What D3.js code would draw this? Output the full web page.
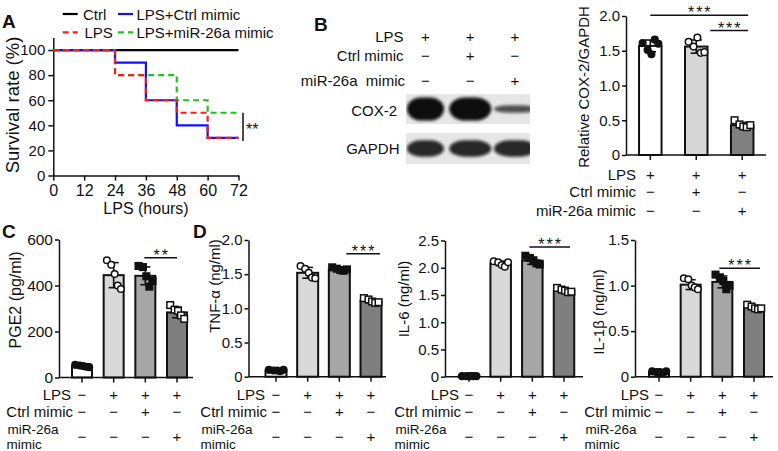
<!DOCTYPE html>
<html><head><meta charset="utf-8">
<script src="https://cdn.jsdelivr.net/npm/d3@7"></script>
<style>
body{margin:0;background:#fff;}
svg text{font-family:"Liberation Sans",Arial,Helvetica,sans-serif;fill:#111;}
</style></head><body>
<svg id="fig" width="778" height="451"></svg>
<script>
// ---------- Panel A: survival ----------
const survTimes = [0, 24, 36, 48, 60, 72];
const survCtrl = [100, 100, 100, 100, 100, 100];
const survLPSCtrlMimic = [100, 90, 60, 40, 30, 30];
const survLPSmiR = [100, 80, 80, 60, 50, 50];
const survLPS = [100, 80, 60, 50, 30, 30];
const survXTicks = [0, 12, 24, 36, 48, 60, 72];
const survYTicks = [0, 20, 40, 60, 80, 100];
const survLegend = ["Ctrl", "LPS+Ctrl mimic", "LPS", "LPS+miR-26a mimic"];

// ---------- Panel B: western blot + quantification ----------
const blotRows = ["COX-2", "GAPDH"];
const blotCOX2 = [1.0, 1.0, 0.33];
const blotGAPDH = [0.72, 0.72, 0.72];
const bRowNames = ["LPS", "Ctrl mimic", "miR-26a  mimic"];
const bRowLPS = ["+", "+", "+"];
const bRowCtrl = ["\u2212", "+", "\u2212"];
const bRowMiR = ["\u2212", "\u2212", "+"];
const bBarValues = [1.57, 1.56, 0.43];
const bPoints = [[1.61, 1.51, 1.45, 1.66, 1.60], [1.63, 1.56, 1.69, 1.47, 1.48], [0.50, 0.44, 0.41, 0.40, 0.43]];
const bYTicks = [0, 0.5, 1.0, 1.5, 2.0];
const bYLabel = "Relative COX-2/GAPDH";

// ---------- Panels C, D ----------
const cdRowNames = ["LPS", "Ctrl mimic", "miR-26a", "mimic"];
const cdRowLPS = ["\u2212", "+", "+", "+"];
const cdRowCtrl = ["\u2212", "\u2212", "+", "\u2212"];
const cdRowMiR = ["\u2212", "\u2212", "\u2212", "+"];

const pgeValues = [50, 445, 442, 283];
const pgePoints = [[55, 52, 50, 47, 45], [510, 490, 450, 400, 385], [485, 480, 440, 395, 420], [315, 295, 290, 270, 255]];
const pgeYTicks = [0, 200, 400, 600];

const tnfValues = [0.09, 1.52, 1.57, 1.11];
const tnfPoints = [[0.10, 0.09, 0.09, 0.08, 0.10], [1.62, 1.58, 1.52, 1.45, 1.44], [1.60, 1.58, 1.56, 1.55, 1.57], [1.15, 1.13, 1.10, 1.08, 1.09]];
const tnfYTicks = [0, 0.5, 1.0, 1.5, 2.0];

const il6Values = [0.01, 2.08, 2.13, 1.58];
const il6Points = [[0.01, 0.01, 0.01, 0.01, 0.01], [2.12, 2.10, 2.05, 2.02, 2.10], [2.22, 2.18, 2.12, 2.08, 2.06], [1.63, 1.60, 1.58, 1.55, 1.56]];
const il6YTicks = [0, 0.5, 1.0, 1.5, 2.0, 2.5];

const il1bValues = [0.05, 1.01, 1.04, 0.76];
const il1bPoints = [[0.06, 0.05, 0.05, 0.04, 0.06], [1.08, 1.07, 1.00, 0.98, 0.96], [1.12, 1.09, 1.05, 0.96, 1.00], [0.79, 0.77, 0.75, 0.74, 0.75]];
const il1bYTicks = [0, 0.5, 1.0, 1.5];

// ---------------------------------------------------------------
const svg = d3.select("#fig");
const FONT = 15;
function panelLetter(x, y, t) {
  svg.append("text").attr("x", x).attr("y", y).style("font-size", "19px").style("font-weight", "bold").text(t);
}
function vLabel(x, y, text, size) {
  svg.append("text").attr("transform", `translate(${x},${y}) rotate(-90)`)
    .attr("text-anchor", "middle").attr("dominant-baseline", "central")
    .style("font-size", size + "px").text(text);
}
function styleAxis(g) {
  g.selectAll("path.domain").attr("stroke", "#111").attr("stroke-width", 1.5);
  g.selectAll(".tick line").attr("stroke", "#111").attr("stroke-width", 1.5);
  g.selectAll(".tick text").style("font-size", FONT + "px").attr("fill", "#111")
    .style("font-family", '"Liberation Sans",Arial,sans-serif');
}
const fmt = d => d === 0 ? "0" : (Number.isInteger(d) && d >= 10 ? String(d) : d3.format(".1f")(d));

// ================= Panel A =================
(function () {
  const x = d3.scaleLinear().domain([0, 72]).range([53.3, 238.5]);
  const y = d3.scaleLinear().domain([0, 110]).range([175.5, 37.5]);
  const gx = svg.append("g").attr("transform", `translate(0,${y(0)})`)
    .call(d3.axisBottom(x).tickValues(survXTicks).tickSize(5).tickSizeOuter(0).tickPadding(4));
  styleAxis(gx);
  gx.selectAll(".tick text").style("font-size", "16px");
  const gy = svg.append("g").attr("transform", `translate(${x(0)},0)`)
    .call(d3.axisLeft(y).tickValues(survYTicks).tickSize(5).tickSizeOuter(0).tickPadding(3));
  styleAxis(gy);

  const line = d3.line().x((d, i) => x(survTimes[i])).y(d => y(d)).curve(d3.curveStepAfter);
  const series = [
    { v: survCtrl, c: "#000", dash: null },
    { v: survLPSCtrlMimic, c: "#1010ff", dash: null },
    { v: survLPSmiR, c: "#1fc31f", dash: "6,4" },
    { v: survLPS, c: "#ff1a1a", dash: "6,4" }
  ];
  series.forEach(s => {
    svg.append("path").attr("d", line(s.v)).attr("fill", "none").attr("stroke", s.c)
      .attr("stroke-width", 2.2).attr("stroke-dasharray", s.dash);
  });
  svg.append("line").attr("x1", 243).attr("x2", 243).attr("y1", y(50)).attr("y2", y(27.5))
    .attr("stroke", "#111").attr("stroke-width", 1.5);
  svg.append("text").attr("x", 246).attr("y", y(39) + 8).style("font-size", "16px").text("**");

  const leg = [
    { t: survLegend[0], c: "#000", dash: null, lx: 62.7, ty: 14, tx: 83 },
    { t: survLegend[1], c: "#1010ff", dash: null, lx: 118, ty: 14, tx: 136.5 },
    { t: survLegend[2], c: "#ff1a1a", dash: "6,4", lx: 62.7, ty: 32.3, tx: 84.5 },
    { t: survLegend[3], c: "#1fc31f", dash: "6,4", lx: 118, ty: 32.3, tx: 136.5 }
  ];
  leg.forEach(l => {
    svg.append("line").attr("x1", l.lx).attr("x2", l.lx + 15).attr("y1", l.ty).attr("y2", l.ty)
      .attr("stroke", l.c).attr("stroke-width", 2.2).attr("stroke-dasharray", l.dash);
    svg.append("text").attr("x", l.tx).attr("y", l.ty).attr("dominant-baseline", "central")
      .style("font-size", FONT + "px").text(l.t);
  });
  vLabel(12, 105, "Survival rate (%)", 18.5);
  svg.append("text").attr("x", 146).attr("y", 214).attr("text-anchor", "middle")
    .style("font-size", "16px").text("LPS (hours)");
  panelLetter(2, 28, "A");
})();

// ================= Panel B: blot =================
(function () {
  panelLetter(314, 31, "B");
  const lanes = d3.scalePoint().domain([0, 1, 2]).range([425.5, 515]);
  const headRows = [bRowLPS, bRowCtrl, bRowMiR];
  const headY = [36.7, 55.5, 80];
  headRows.forEach((row, r) => {
    svg.append("text").attr("x", r === 2 ? 405 : 403.5).attr("y", headY[r]).attr("text-anchor", "end")
      .attr("dominant-baseline", "central").style("font-size", FONT + "px")
      .style("white-space", "pre").text(bRowNames[r]);
    row.forEach((s, i) => {
      svg.append("text").attr("x", lanes(i)).attr("y", headY[r]).attr("text-anchor", "middle")
        .attr("dominant-baseline", "central").style("font-size", FONT + "px").text(s);
    });
  });
  const defs = svg.append("defs");
  defs.append("filter").attr("id", "blur").attr("x", "-30%").attr("y", "-60%").attr("width", "160%").attr("height", "220%")
    .append("feGaussianBlur").attr("stdDeviation", 1.8);
  const boxes = [{ y0: 94, y1: 124, data: blotCOX2, maxH: 23, ly: 110, name: blotRows[0] },
                 { y0: 133, y1: 164, data: blotGAPDH, maxH: 23, ly: 148.5, name: blotRows[1] }];
  boxes.forEach((b, bi) => {
    defs.append("clipPath").attr("id", "clip" + bi).append("rect")
      .attr("x", 406).attr("y", b.y0).attr("width", 124).attr("height", b.y1 - b.y0);
    svg.append("rect").attr("x", 406).attr("y", b.y0).attr("width", 124).attr("height", b.y1 - b.y0)
      .attr("fill", "#e6e6e6");
    const g = svg.append("g").attr("clip-path", `url(#clip${bi})`);
    const cy = (b.y0 + b.y1) / 2;
    b.data.forEach((v, i) => {
      const w = i === 0 ? 37 : 42;
      const h = b.maxH * v;
      g.append("rect").attr("x", lanes(i) - w / 2).attr("y", cy - h / 2).attr("width", w).attr("height", h)
        .attr("rx", w / 2.6).attr("ry", h / 2).attr("fill", "#0a0a0a").attr("opacity", 0.55 + 0.45 * v)
        .attr("filter", "url(#blur)");
    });
    svg.append("text").attr("x", bi === 0 ? 397 : 399.5).attr("y", b.ly).attr("text-anchor", "end")
      .attr("dominant-baseline", "central").style("font-size", FONT + "px").text(b.name);
  });
})();

// ================= generic bar panel =================
function barPanel(cfg) {
  const n = cfg.values.length;
  const x = d3.scalePoint().domain(d3.range(n)).range([cfg.x0, cfg.x1]);
  const y = d3.scaleLinear().domain([0, cfg.yMax]).range([cfg.y0, cfg.y1]);
  const bw = cfg.barW;
  cfg.values.forEach((v, i) => {
    svg.append("rect").attr("x", x(i) - bw / 2).attr("y", y(v)).attr("width", bw).attr("height", y(0) - y(v))
      .attr("fill", cfg.fills[i]).attr("stroke", "#111").attr("stroke-width", 2);
  });
  cfg.values.forEach((v, i) => {
    const sd = d3.deviation(cfg.points[i]);
    const top = y(v + sd), bot = y(Math.max(0, v - sd));
    const g = svg.append("g").attr("stroke", "#111").attr("stroke-width", 1.6);
    g.append("line").attr("x1", x(i)).attr("x2", x(i)).attr("y1", top).attr("y2", bot);
    g.append("line").attr("x1", x(i) - bw * 0.25).attr("x2", x(i) + bw * 0.25).attr("y1", top).attr("y2", top);
    g.append("line").attr("x1", x(i) - bw * 0.25).attr("x2", x(i) + bw * 0.25).attr("y1", bot).attr("y2", bot);
  });
  const jitter = [-0.34, -0.12, 0.05, 0.2, 0.36];
  cfg.points.forEach((pts, i) => {
    const sh = cfg.shapes[i];
    pts.forEach((p, k) => {
      const px = x(i) + jitter[k] * bw, py = y(p);
      const filled = sh.endsWith("F");
      const el = sh.startsWith("c")
        ? svg.append("circle").attr("cx", px).attr("cy", py).attr("r", 3.3)
        : svg.append("rect").attr("x", px - 3.3).attr("y", py - 3.3).attr("width", 6.6).attr("height", 6.6);
      el.attr("fill", filled ? "#111" : "#fff").attr("stroke", "#111").attr("stroke-width", 1.5);
    });
  });
  const gy = svg.append("g").attr("transform", `translate(${cfg.ax},0)`)
    .call(d3.axisLeft(y).tickValues(cfg.yTicks).tickSize(4).tickSizeOuter(0).tickPadding(2).tickFormat(fmt));
  styleAxis(gy);
  if (cfg.tickFont) gy.selectAll(".tick text").style("font-size", cfg.tickFont + "px");
  svg.append("line").attr("x1", cfg.ax).attr("x2", cfg.axEnd).attr("y1", y(0)).attr("y2", y(0))
    .attr("stroke", "#111").attr("stroke-width", 1.5);
  d3.range(n).forEach(i => {
    svg.append("line").attr("x1", x(i)).attr("x2", x(i)).attr("y1", y(0)).attr("y2", y(0) + 5)
      .attr("stroke", "#111").attr("stroke-width", 1.5);
  });
  cfg.sig.forEach(s => {
    const x1 = x(s.a) + s.da, x2 = x(s.b) + s.db, yy = y(s.at);
    svg.append("line").attr("x1", x1).attr("x2", x2).attr("y1", yy).attr("y2", yy)
      .attr("stroke", "#111").attr("stroke-width", 1.5);
    svg.append("text").attr("x", (x1 + x2) / 2 + 1).attr("y", yy + 3).attr("text-anchor", "middle")
      .style("font-size", "16px").style("letter-spacing", "2px").text(s.t);
  });
  vLabel(cfg.lx, cfg.ly, cfg.yLabel, cfg.lsize || FONT);
  cfg.rows.forEach((row, r) => {
    const ry = cfg.rowY[r];
    row.forEach((s, i) => {
      svg.append("text").attr("x", x(i)).attr("y", ry).attr("text-anchor", "middle")
        .attr("dominant-baseline", "central").style("font-size", FONT + "px").text(s);
    });
  });
  cfg.rowText.forEach(t => {
    const el = svg.append("text").attr("x", t.x).attr("y", t.y).attr("text-anchor", t.anchor)
      .style("font-size", (t.size || FONT) + "px");
    if (Array.isArray(t.t)) {
      t.t.forEach((line, li) => {
        el.append("tspan").attr("x", t.x + (t.dx ? t.dx[li] : 0)).attr("y", t.y + li * t.lh).text(line);
      });
    } else {
      el.attr("dominant-baseline", "central").text(t.t);
    }
  });
  return { x, y };
}

// ---- B quantification
barPanel({
  values: bBarValues, points: bPoints, fills: ["#ffffff", "#d6d6d6", "#808080"], shapes: ["cF", "cO", "sO"],
  x0: 650.3, x1: 742.2, barW: 22.5, y0: 155, y1: 16, yMax: 2.0, ax: 626, axEnd: 766, yTicks: bYTicks,
  yLabel: bYLabel, lx: 583, ly: 87,
  sig: [{ a: 0, b: 2, da: 0, db: 6, at: 2.01, t: "***" }, { a: 1, b: 2, da: 14, db: 6, at: 1.79, t: "***" }],
  rows: [bRowLPS, bRowCtrl, bRowMiR], rowY: [174, 191.7, 210],
  rowText: [{ t: bRowNames[0], x: 636, y: 174, anchor: "end" }, { t: bRowNames[1], x: 636, y: 191.7, anchor: "end" },
            { t: "miR-26a mimic", x: 636, y: 210, anchor: "end" }]
});

const cdFills = ["#ffffff", "#d9d9d9", "#a6a6a6", "#7f7f7f"];
const cdShapes = ["cF", "cO", "sF", "sO"];
function cdRowText(x1) {
  return [{ t: cdRowNames[0], x: x1 - 11, y: 394.3, anchor: "end" },
          { t: cdRowNames[1], x: x1 - 9, y: 411.8, anchor: "end" },
          { t: [cdRowNames[2], cdRowNames[3]], x: x1 - 75.5, dx: [1, 0], y: 433.8, lh: 15.2, size: 13.5, anchor: "start" }];
}
const cdRowY = [394.3, 411.8, 436.7];

// ---- C
panelLetter(2, 238, "C");
barPanel({
  values: pgeValues, points: pgePoints, fills: cdFills, shapes: cdShapes,
  x0: 82, x1: 177, barW: 20, y0: 377.5, y1: 239.5, yMax: 600, ax: 59, axEnd: 193, yTicks: pgeYTicks,
  yLabel: "PGE2 (pg/ml)", lx: 15, ly: 300, lsize: 16, tickFont: 15.5,
  sig: [{ a: 2, b: 3, da: -1, db: 0, at: 521, t: "**" }],
  rows: [cdRowLPS, cdRowCtrl, cdRowMiR], rowY: cdRowY, rowText: cdRowText(82)
});

// ---- D
panelLetter(193, 238, "D");
barPanel({
  values: tnfValues, points: tnfPoints, fills: cdFills, shapes: cdShapes,
  x0: 276, x1: 371, barW: 21, y0: 376.7, y1: 240, yMax: 2.0, ax: 248.5, axEnd: 386, yTicks: tnfYTicks,
  yLabel: "TNF-\u03b1 (ng/ml)", lx: 214, ly: 286,
  sig: [{ a: 2, b: 3, da: 7, db: 9, at: 1.80, t: "***" }],
  rows: [cdRowLPS, cdRowCtrl, cdRowMiR], rowY: cdRowY, rowText: cdRowText(276)
});
barPanel({
  values: il6Values, points: il6Points, fills: cdFills, shapes: cdShapes,
  x0: 469, x1: 564, barW: 20.5, y0: 376.7, y1: 240.5, yMax: 2.5, ax: 445, axEnd: 583, yTicks: il6YTicks,
  yLabel: "IL-6 (ng/ml)", lx: 403, ly: 299,
  sig: [{ a: 2, b: 3, da: -3, db: 6, at: 2.38, t: "***" }],
  rows: [cdRowLPS, cdRowCtrl, cdRowMiR], rowY: cdRowY, rowText: cdRowText(470)
});
barPanel({
  values: il1bValues, points: il1bPoints, fills: cdFills, shapes: cdShapes,
  x0: 659, x1: 754, barW: 20, y0: 376.7, y1: 240, yMax: 1.5, ax: 635, axEnd: 773, yTicks: il1bYTicks,
  yLabel: "IL-1\u03b2 (ng/ml)", lx: 598, ly: 312,
  sig: [{ a: 2, b: 3, da: -3, db: 6, at: 1.19, t: "***" }],
  rows: [cdRowLPS, cdRowCtrl, cdRowMiR], rowY: cdRowY, rowText: cdRowText(660)
});
</script>
</body></html>
